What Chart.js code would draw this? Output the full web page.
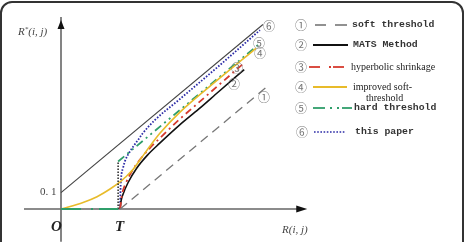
<!DOCTYPE html>
<html><head><meta charset="utf-8">
<script src="https://cdn.jsdelivr.net/npm/chart.js@4/dist/chart.umd.min.js"></script>
<style>
html,body{margin:0;padding:0;background:#fff;width:467px;height:242px;overflow:hidden;position:relative;}
#frame{position:absolute;left:0;top:1px;width:464px;height:275px;border:2px solid #333;border-radius:12px;box-sizing:border-box;}
#c{position:absolute;left:0;top:0;}
.t{position:absolute;white-space:nowrap;line-height:1;transform:translateY(-50%);}
.ax{font-family:"Liberation Serif",serif;font-style:italic;color:#444;font-size:11px;}
.bi{font-family:"Liberation Serif",serif;font-style:italic;font-weight:bold;color:#222;font-size:15px;}
.cn{font-family:"Noto Sans CJK SC","DejaVu Sans",sans-serif;color:#777;font-size:12px;transform:translate(-50%,-50%);}
.mono{font-family:"Liberation Mono",monospace;font-weight:bold;color:#333;font-size:9.8px;}
.serif{font-family:"Liberation Serif",serif;color:#222;font-size:10px;}
svg{position:absolute;left:0;top:0;}
</style></head>
<body>
<div id="frame"></div>
<canvas id="c" width="467" height="242"></canvas>
<svg width="467" height="242">
  <line x1="315" y1="25" x2="326" y2="25" stroke="#555" stroke-width="1.3"/>
  <line x1="335" y1="25" x2="347" y2="25" stroke="#555" stroke-width="1.3"/>
  <line x1="313" y1="45" x2="348" y2="45" stroke="#111" stroke-width="1.8"/>
  <line x1="309" y1="67" x2="320" y2="67" stroke="#d63a2e" stroke-width="1.8"/>
  <line x1="329" y1="67" x2="331" y2="67" stroke="#d63a2e" stroke-width="1.8"/>
  <line x1="333" y1="67" x2="344" y2="67" stroke="#d63a2e" stroke-width="1.8"/>
  <line x1="313" y1="87" x2="347" y2="87" stroke="#e8bb2a" stroke-width="1.8"/>
  <line x1="313" y1="108" x2="325" y2="108" stroke="#2f9e6a" stroke-width="1.8"/>
  <line x1="330" y1="108" x2="332" y2="108" stroke="#2f9e6a" stroke-width="1.8"/>
  <line x1="337" y1="108" x2="339" y2="108" stroke="#2f9e6a" stroke-width="1.8"/>
  <line x1="342" y1="108" x2="352" y2="108" stroke="#2f9e6a" stroke-width="1.8"/>
  <line x1="314" y1="132" x2="346" y2="132" stroke="#2b2ba6" stroke-width="1.6" stroke-dasharray="1.6 1.6"/>
</svg>
<div class="t ax" style="left:18px;top:31px;">R<sup style="font-size:7px;vertical-align:4px;">*</sup>(i, j)</div>
<div class="t" style="left:40px;top:191px;font-family:'Liberation Serif',serif;color:#444;font-size:11px;">0. 1</div>
<div class="t bi" style="left:51px;top:226px;">O</div>
<div class="t bi" style="left:115px;top:226px;">T</div>
<div class="t ax" style="left:282px;top:229px;">R(i, j)</div>

<div class="t cn" style="left:301px;top:25px;">①</div>
<div class="t cn" style="left:301px;top:45px;">②</div>
<div class="t cn" style="left:301px;top:67px;">③</div>
<div class="t cn" style="left:301px;top:87px;">④</div>
<div class="t cn" style="left:301px;top:108px;">⑤</div>
<div class="t cn" style="left:302px;top:132px;">⑥</div>
<div class="t mono" style="left:352px;top:25px;">soft threshold</div>
<div class="t mono" style="left:353px;top:45px;">MATS Method</div>
<div class="t serif" style="left:351px;top:67px;">hyperbolic shrinkage</div>
<div class="t serif" style="left:353px;top:87px;">improved soft-</div>
<div class="t serif" style="left:366px;top:98px;">threshold</div>
<div class="t mono" style="left:354px;top:108px;">hard threshold</div>
<div class="t mono" style="left:355px;top:132px;">this paper</div>

<div class="t cn" style="left:269px;top:26px;">⑥</div>
<div class="t cn" style="left:259px;top:43px;">⑤</div>
<div class="t cn" style="left:260px;top:53px;">④</div>
<div class="t cn" style="left:237px;top:68px;">③</div>
<div class="t cn" style="left:234px;top:84px;">②</div>
<div class="t cn" style="left:264px;top:97px;">①</div>

<script>
// threshold T
const T = 0.3;
// reference line R' = R + 0.1
const refX = [0, 1.025];
const refY = [0.1, 1.125];
// (1) soft threshold
const softX = [0.3, 1.06];
const softY = [0, 0.76];
// (2) MATS method
const matsX = [0.3, 0.305, 0.315, 0.34, 0.385, 0.44, 0.5, 0.6, 0.7, 0.8, 0.93];
const matsY = [0, 0.05, 0.09, 0.16, 0.25, 0.33, 0.4, 0.51, 0.61, 0.715, 0.85];
// (3) hyperbolic shrinkage
const hypX = [0.3, 0.31, 0.33, 0.36, 0.4, 0.45, 0.5, 0.6, 0.7, 0.8, 0.92];
const hypY = [0, 0.09, 0.16, 0.23, 0.3, 0.37, 0.43, 0.545, 0.65, 0.755, 0.88];
// (4) improved soft-threshold
const impX = [0, 0.112, 0.183, 0.249, 0.3, 0.325, 0.365, 0.401, 0.452, 0.503, 0.604, 0.807, 0.99];
const impY = [0, 0.04, 0.075, 0.122, 0.165, 0.192, 0.24, 0.299, 0.384, 0.463, 0.591, 0.799, 0.98];
// (5) hard threshold
const hardZeroX = [0, 0.29];
const hardZeroY = [0, 0];
const hardJumpX = [0.29, 0.29];
const hardJumpY = [0, 0.29];
const hardX = [0.29, 1.0];
const hardY = [0.29, 1.0];
// (6) this paper
const thisX = [0.3, 0.302, 0.305, 0.315, 0.325, 0.345, 0.365, 0.391, 0.416, 0.477, 0.604, 0.807, 1.01];
const thisY = [0, 0.116, 0.189, 0.25, 0.293, 0.341, 0.378, 0.421, 0.463, 0.543, 0.671, 0.878, 1.091];

const zip = (xs, ys) => xs.map((x, i) => ({x, y: ys[i]}));
const ds = (xs, ys, color, width, dash, tension) => ({
  data: zip(xs, ys), borderColor: color, borderWidth: width, borderDash: dash || [],
  showLine: true, pointRadius: 0, fill: false, tension: tension || 0,
  cubicInterpolationMode: tension ? 'monotone' : 'default'
});

const axesPlugin = {
  id: 'axes',
  beforeDatasetsDraw(chart) {
    const ctx = chart.ctx, xs = chart.scales.x, ys = chart.scales.y;
    const ox = xs.getPixelForValue(0), oy = ys.getPixelForValue(0);
    ctx.save();
    ctx.strokeStyle = '#666'; ctx.lineWidth = 1.6;
    ctx.beginPath();
    ctx.moveTo(xs.getPixelForValue(-0.188), oy); ctx.lineTo(xs.getPixelForValue(1.22), oy);
    ctx.moveTo(ox, ys.getPixelForValue(-0.2)); ctx.lineTo(ox, ys.getPixelForValue(1.17));
    ctx.stroke();
    ctx.fillStyle = '#111';
    const ax = xs.getPixelForValue(1.25);
    ctx.beginPath(); ctx.moveTo(ax, oy); ctx.lineTo(ax - 11, oy - 3.5); ctx.lineTo(ax - 11, oy + 3.5); ctx.closePath(); ctx.fill();
    const ay = ys.getPixelForValue(1.153);
    ctx.beginPath(); ctx.moveTo(ox, ay); ctx.lineTo(ox - 3.5, ay + 9); ctx.lineTo(ox + 3.5, ay + 9); ctx.closePath(); ctx.fill();
    ctx.restore();
  }
};

new Chart(document.getElementById('c'), {
  type: 'scatter',
  data: { datasets: [
    ds(refX, refY, '#444', 1.1),
    ds(softX, softY, '#777', 1.3, [9, 6]),
    ds(hardZeroX, hardZeroY, '#2f9e6a', 2, [20, 10, 2, 6]),
    ds(hardJumpX, hardJumpY, '#333', 1.6, [1.5, 1.5]),
    ds(impX, impY, '#e8bb2a', 1.6, [], 0.4),
    ds(hardX, hardY, '#2f9e6a', 1.8, [8, 4, 2, 4, 2, 4]),
    ds(hypX, hypY, '#d63a2e', 1.8, [7, 4, 2, 4], 0.4),
    ds(matsX, matsY, '#111', 1.6, [], 0.4),
    ds(thisX, thisY, '#2b2ba6', 1.8, [1.6, 1.6], 0.4)
  ]},
  options: {
    responsive: false, animation: false,
    layout: { padding: 0 },
    plugins: { legend: { display: false }, tooltip: { enabled: false } },
    scales: {
      x: { type: 'linear', display: false, min: -61/197, max: (467-61)/197 },
      y: { type: 'linear', display: false, min: -33/164, max: 209/164 }
    }
  },
  plugins: [axesPlugin]
});
</script>
</body></html>
